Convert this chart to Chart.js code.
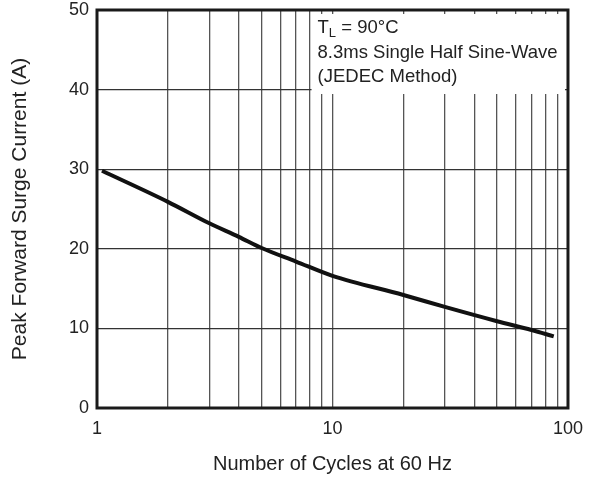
<!DOCTYPE html>
<html>
<head>
<meta charset="utf-8">
<script src="https://cdn.jsdelivr.net/npm/chart.js@4.4.0/dist/chart.umd.min.js"></script>
<style>
  html, body { margin: 0; padding: 0; background: #fff; }
  canvas { display: block; }
</style>
</head>
<body>
<canvas id="surge" width="593" height="480"></canvas>
<script>
// values
const cycles = [1.05, 2, 3, 4, 5, 7, 10, 20, 30, 50, 70, 87];
const current = [29.8, 25.9, 23.2, 21.5, 20.1, 18.4, 16.6, 14.2, 12.7, 10.9, 9.8, 9.0];

const xGrid = [1, 2, 3, 4, 5, 6, 7, 8, 9, 10, 20, 30, 40, 50, 60, 70, 80, 90, 100];
const xLabels = [1, 10, 100];
const yTicks = [0, 10, 20, 30, 40, 50];

const noteLines = ['8.3ms Single Half Sine-Wave', '(JEDEC Method)'];
const FONT = '"Liberation Sans", Arial, sans-serif';

(function () {
  // white box with the test conditions, top right of the plot
  const notePlugin = {
    id: 'note',
    beforeDatasetsDraw(chart) {
      const ctx = chart.ctx;
      const ca = chart.chartArea;
      const left = chart.scales.x.getPixelForValue(8.15);
      ctx.save();
      ctx.fillStyle = '#fff';
      ctx.fillRect(left, ca.top + 4, ca.right - 3 - left, 80);
      ctx.fillStyle = '#222';
      ctx.textBaseline = 'middle';
      ctx.font = '18.5px ' + FONT;
      const tx = left + 6;
      ctx.fillText('T', tx, ca.top + 18);
      let w = ctx.measureText('T').width;
      ctx.font = '13px ' + FONT;
      ctx.fillText('L', tx + w, ca.top + 23);
      w += ctx.measureText('L').width;
      ctx.font = '18.5px ' + FONT;
      ctx.fillText(' = 90\u00B0C', tx + w, ca.top + 18);
      noteLines.forEach((t, i) => ctx.fillText(t, tx, ca.top + 43 + i * 24));
      ctx.restore();
    }
  };

  // heavy frame round the plot
  const framePlugin = {
    id: 'frame',
    afterDatasetsDraw(chart) {
      const ctx = chart.ctx;
      const ca = chart.chartArea;
      ctx.save();
      ctx.strokeStyle = '#1a1a1a';
      ctx.lineWidth = 3;
      ctx.strokeRect(ca.left, ca.top, ca.right - ca.left, ca.bottom - ca.top);
      ctx.restore();
    }
  };

  new Chart(document.getElementById('surge'), {
    type: 'line',
    data: {
      datasets: [{
        data: cycles.map((c, i) => ({ x: c, y: current[i] })),
        borderColor: '#111',
        borderWidth: 4,
        pointRadius: 0,
        cubicInterpolationMode: 'monotone',
        fill: false
      }]
    },
    options: {
      responsive: false,
      animation: false,
      layout: { padding: { top: 10, right: 24, left: 0, bottom: 0 } },
      plugins: { legend: { display: false }, tooltip: { enabled: false } },
      scales: {
        x: {
          type: 'logarithmic',
          min: 1,
          max: 100,
          afterBuildTicks: s => { s.ticks = xGrid.map(v => ({ value: v })); },
          afterFit: s => { s.height = 72; },
          border: { display: false },
          grid: { color: '#555', lineWidth: 1.3, drawTicks: false },
          ticks: {
            autoSkip: false,
            maxRotation: 0,
            padding: 10,
            color: '#222',
            font: { family: FONT, size: 18 },
            callback: v => xLabels.includes(v) ? String(v) : ''
          },
          title: {
            display: true,
            text: 'Number of Cycles at 60 Hz',
            color: '#222',
            font: { family: FONT, size: 20 },
            padding: { top: 10 }
          }
        },
        y: {
          min: 0,
          max: 50,
          afterBuildTicks: s => { s.ticks = yTicks.map(v => ({ value: v })); },
          afterFit: s => { s.width = 97; s.paddingTop = 0; s.paddingBottom = 0; },
          border: { display: false },
          grid: { color: '#333', lineWidth: 1.3, drawTicks: false },
          ticks: {
            padding: 8,
            color: '#222',
            font: { family: FONT, size: 18 }
          },
          title: {
            display: true,
            text: 'Peak Forward Surge Current (A)',
            color: '#222',
            font: { family: FONT, size: 21 },
            padding: { top: 8, bottom: 0 }
          }
        }
      }
    },
    plugins: [notePlugin, framePlugin]
  });
}());
</script>
</body>
</html>
